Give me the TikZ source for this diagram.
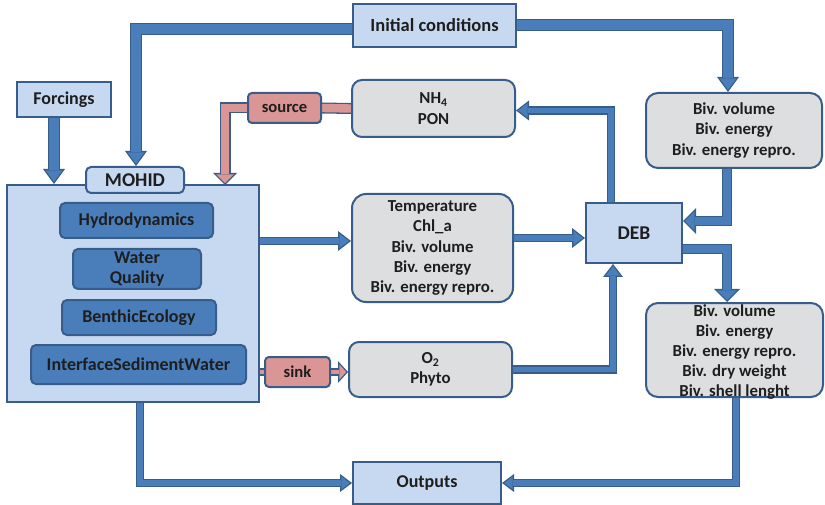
\documentclass[tikz,border=0pt]{standalone}
\usepackage{fontspec}
\setmainfont{Carlito}
\usetikzlibrary{arrows.meta,backgrounds}
\definecolor{bdark}{RGB}{56,93,138}
\definecolor{afill}{RGB}{74,126,187}
\definecolor{lblue}{RGB}{198,217,241}
\definecolor{gfill}{RGB}{221,222,224}
\definecolor{pfill}{RGB}{217,150,148}
\definecolor{txt}{RGB}{30,30,30}
\tikzset{
  base/.style={draw=bdark, line width=2pt, text=txt, font=\bfseries, align=center, inner sep=0pt},
  lbox/.style={base, fill=lblue, rectangle},
  gbox/.style={base, fill=gfill, rounded corners=12pt, font=\fontsize{16.8}{20.3}\selectfont\bfseries},
  gtext/.style={text=txt, align=center, inner sep=0pt, font=\fontsize{16.8}{20}\selectfont\bfseries},
  mbox/.style={base, fill=afill, rounded corners=5pt, font=\fontsize{18}{20}\selectfont\bfseries},
  pbox/.style={base, fill=pfill, rounded corners=4pt, font=\fontsize{16.6}{18}\selectfont\bfseries},
  fat/.style n args={7}{% fill, outer w, inner w, outer head w, outer head l, inner head w, inner head l
    preaction={draw=bdark, line width=#2, -{Triangle[length=#5, width=#4, line width=0pt]}, shorten >=0pt},
    draw=#1, line width=#3, -{Triangle[length=#7, width=#6, line width=0pt]}},
  fatbig/.style={fat={afill}{12pt}{9.4pt}{22pt}{15pt}{16.9pt}{11.5pt}, shorten >=2.2pt},
  fatmid/.style={fat={afill}{8.5pt}{5.9pt}{20pt}{13pt}{14.7pt}{9.57pt}, shorten >=2.1pt},
  fatdeb/.style={fat={afill}{10pt}{7.4pt}{26pt}{13pt}{19.7pt}{9.86pt}, shorten >=1.8pt},
  fatout/.style={fat={afill}{8pt}{5.4pt}{18pt}{12pt}{12.8pt}{8.53pt}, shorten >=2.2pt},
  pinkbig/.style={fat={pfill}{11pt}{8.4pt}{24pt}{12pt}{17.7pt}{8.86pt}, shorten >=1.8pt},
  pinksmall/.style={fat={pfill}{7.5pt}{4.9pt}{22pt}{10pt}{15.3pt}{6.94pt}, shorten >=1.8pt},
  pinktail/.style={preaction={draw=bdark, line width=#1+2.6pt}, draw=pfill, line width=#1}
}
\begin{document}
\begin{tikzpicture}[x=1pt,y=-1pt]
\useasboundingbox (0,0) rectangle (825,505);
% boxes
\node[lbox, minimum width=163pt, minimum height=43pt, font=\fontsize{18.5}{20}\selectfont\bfseries] (init) at (434.5,25.5) {Initial conditions};
\node[lbox, minimum width=94pt, minimum height=35pt, font=\fontsize{18}{20}\selectfont\bfseries] (forc) at (64,99.5) {Forcings};
\node[lbox, minimum width=252pt, minimum height=217pt] (mohid) at (133,293.5) {};
\node[lbox, rounded corners=5pt, minimum width=98pt, minimum height=26pt, font=\fontsize{19.5}{20}\selectfont\bfseries] (mlbl) at (135,180) {MOHID};
\node[mbox, minimum width=153pt, minimum height=35pt] (hyd) at (136.5,220.5) {Hydrodynamics};
\node[mbox, minimum width=128pt, minimum height=40pt] (wq) at (137,269) {Water\\Quality};
\node[mbox, minimum width=154pt, minimum height=35pt] (ben) at (139,317.5) {BenthicEcology};
\node[mbox, minimum width=215pt, minimum height=39pt] (isw) at (138.5,364.5) {InterfaceSedimentWater};
\node[pbox, minimum width=73pt, minimum height=30pt] (src) at (284.5,108) {source};
\node[pbox, minimum width=65pt, minimum height=30pt] (sink) at (297.5,372) {sink};
\node[gbox, rounded corners=10pt, minimum width=163pt, minimum height=57pt] (nh4) at (433.5,108.5) {NH\textsubscript{4}\\PON};
\node[gbox, minimum width=176pt, minimum height=75pt] (biv1) at (734,130.5) {Biv. volume\\Biv. energy\\Biv. energy repro.};
\node[gbox, rounded corners=14pt, minimum width=161pt, minimum height=108pt] (temp) at (432.5,248) {Temperature\\Chl\_a\\Biv. volume\\Biv. energy\\Biv. energy repro.};
\node[lbox, minimum width=96pt, minimum height=60pt, font=\fontsize{19.5}{20}\selectfont\bfseries] (deb) at (634,233) {DEB};
\node[gbox, minimum width=177pt, minimum height=94pt] (biv2) at (734.5,350) {};
\node[gtext] (biv2t) at (734.5,352) {Biv. volume\\Biv. energy\\Biv. energy repro.\\Biv. dry weight\\Biv. shell lenght};
\node[gbox, rounded corners=10pt, minimum width=163pt, minimum height=55pt] (o2) at (430.5,369.5) {O\textsubscript{2}\\Phyto};
\node[lbox, minimum width=148pt, minimum height=42pt, font=\fontsize{18}{20}\selectfont\bfseries] (out) at (427,483) {Outputs};
\coordinate (srctip) at (225,185);
% connectors
\begin{scope}[on background layer]
\draw[fatbig] ([yshift=-3.5pt]init.west) -| ([xshift=1pt]mlbl.north);
\draw[fatbig] ([yshift=0.5pt]init.east) -| ([xshift=-6pt]biv1.north);
\draw[fatbig] ([xshift=-10pt]forc.south) -- ([xshift=-10pt]forc.south |- mohid.north);
\draw[pinktail=8.4pt] (nh4.west) -- (src.east);
\draw[pinkbig] (src.west) -| (srctip);
\draw[fatmid] ([xshift=-23pt]deb.north) |- ([yshift=-2pt]nh4.east);
\draw[fatmid] (mohid.east |- 0,241) -- (temp.west |- 0,241);
\draw[fatmid] (temp.east |- 0,238) -- (deb.west |- 0,238);
\draw[fatdeb] ([xshift=-7pt]biv1.south) |- (deb.east |- 0,221);
\draw[fatdeb] (deb.east |- 0,249) -| ([xshift=-7.5pt]biv2.north);
\draw[fatmid] (o2.east) -| ([xshift=-21pt]deb.south);
\draw[pinktail=4.9pt] (mohid.east |- sink.west) -- (sink.west);
\draw[pinksmall] (sink.east) -- (o2.west |- sink.east);
\draw[fatout] ([xshift=1.5pt]biv2.south) |- (out.east);
\draw[fatout] ([xshift=7pt]mohid.south) |- (out.west);
\end{scope}
\end{tikzpicture}
\end{document}
